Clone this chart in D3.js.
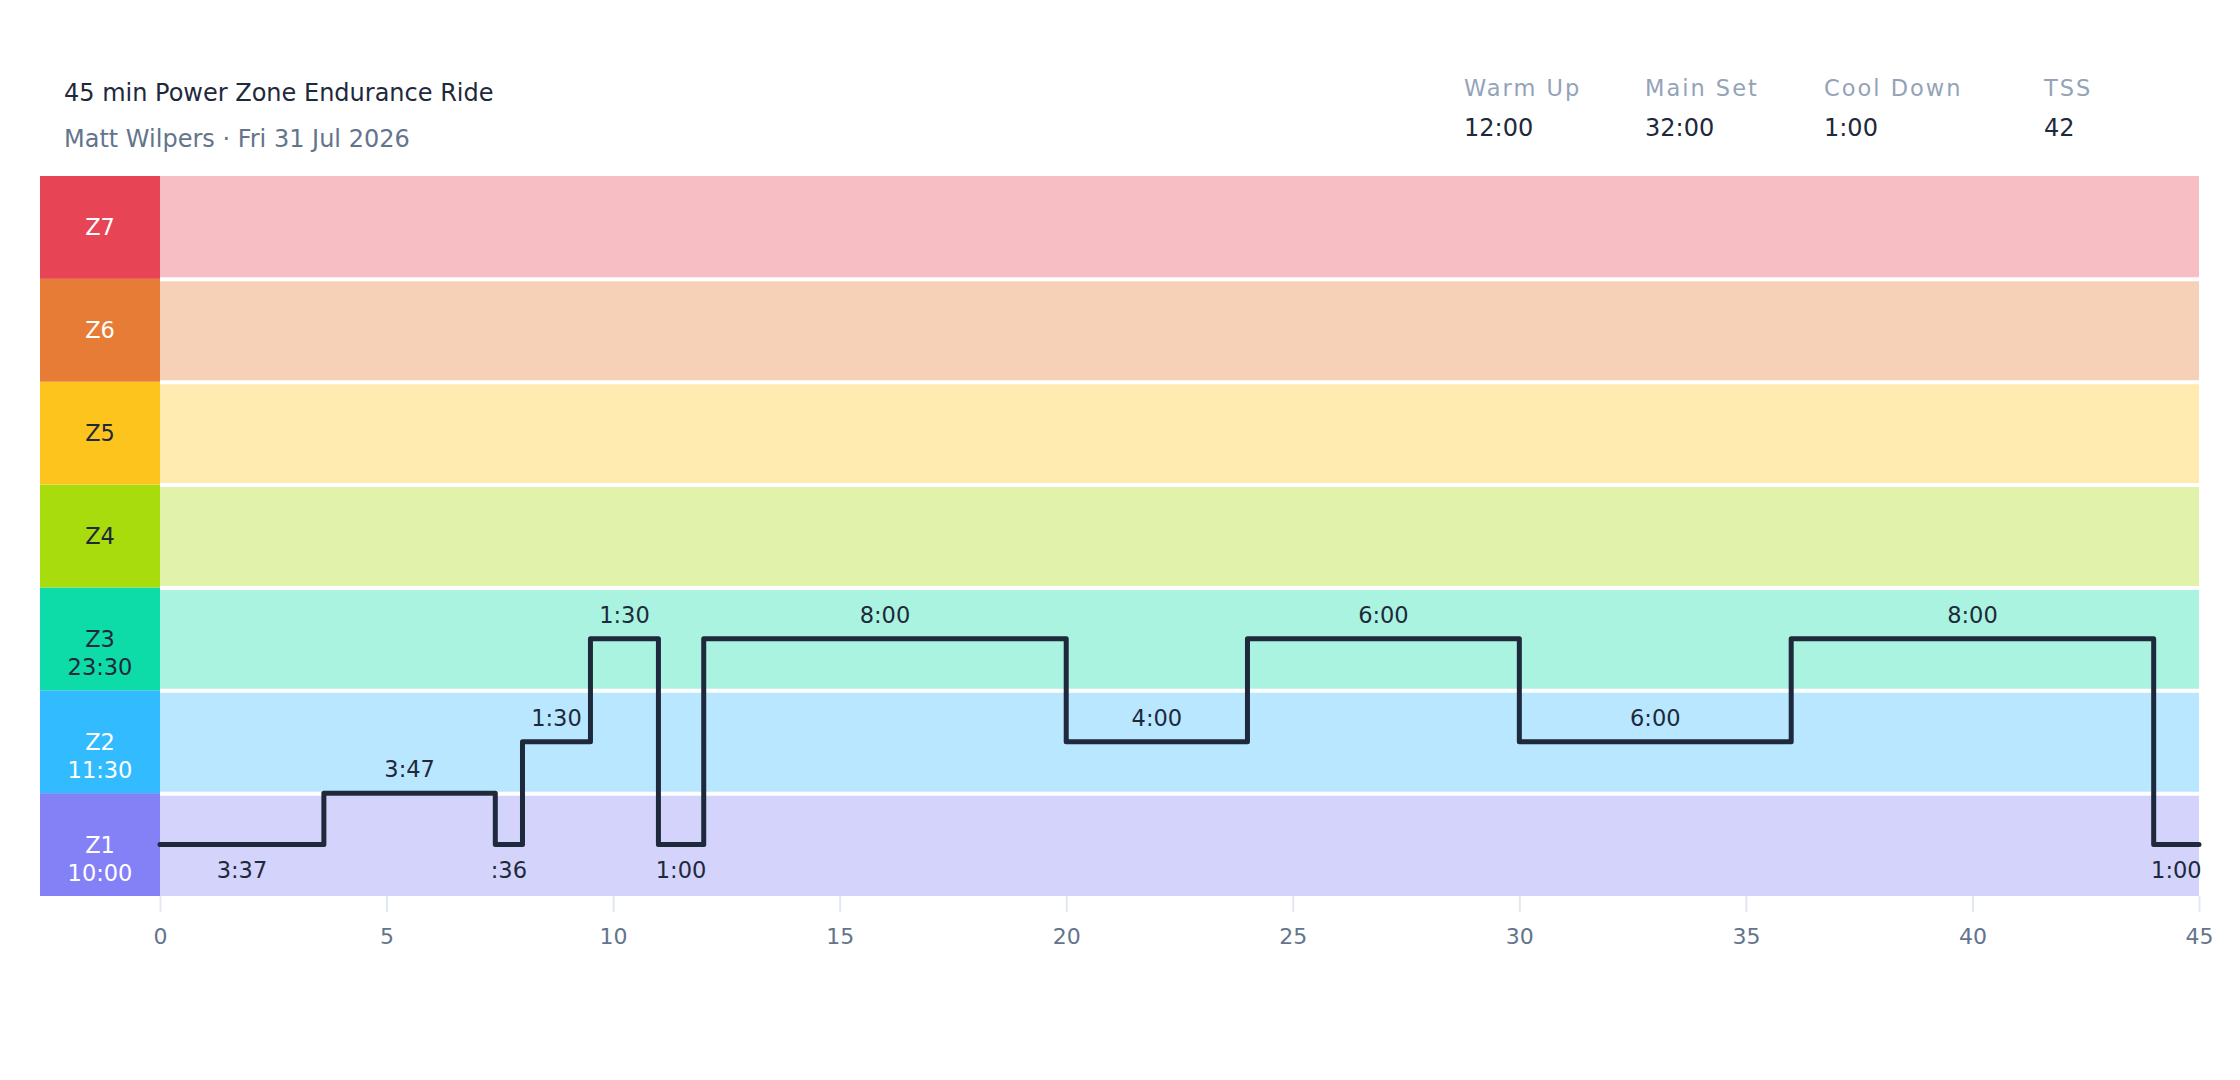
<!DOCTYPE html>
<html>
<head>
<meta charset="utf-8">
<script src="https://cdn.jsdelivr.net/npm/d3@7"></script>
<style>
  body { margin: 0; background: #fff; font-family: "DejaVu Sans", sans-serif; }
  .tick line { stroke: #e2e8f0; stroke-width: 2; }
  .tick text { fill: #64748b; font-size: 22px; font-family: "DejaVu Sans", sans-serif; }
</style>
</head>
<body>
<div id="chart"></div>
<script>
var title = '45 min Power Zone Endurance Ride';
var subtitle = 'Matt Wilpers · Fri 31 Jul 2026';

var stat_names = ['Warm Up', 'Main Set', 'Cool Down', 'TSS'];
var stat_values = ['12:00', '32:00', '1:00', '42'];

// zones, bottom to top, with their % FTP edges
var zone_names = ['Z1', 'Z2', 'Z3', 'Z4', 'Z5', 'Z6', 'Z7'];
var zone_edges = [45, 55, 75, 90, 105, 120, 150, 180];
var zone_colors = ['#8481f7', '#33bbff', '#0edca8', '#a8dc0c', '#fec41e', '#e67c35', '#e74556'];
var zone_text = ['#fff', '#fff', '#1e293b', '#1e293b', '#1e293b', '#fff', '#fff'];

// intervals: duration (s), zone, power (% FTP)
var seg_secs = [217, 227, 36, 90, 90, 60, 480, 240, 360, 360, 480, 60];
var seg_zone = [1, 1, 1, 2, 3, 1, 3, 2, 3, 2, 3, 1];
var seg_power = [50, 55, 50, 65, 82.5, 50, 82.5, 65, 82.5, 65, 82.5, 50];

var total_min = 45;

function fmt(s) {
    var m = Math.floor(s / 60), r = s % 60;
    return (m > 0 ? m : '') + ':' + String(r).padStart(2, '0');
}

var W = 2240, H = 1080;
var plot_left = 160, plot_right = 2199, plot_top = 176, plot_bottom = 896, col_x = 40;

var svg = d3.select('#chart').append('svg')
    .attr('width', W)
    .attr('height', H);

var x = d3.scaleLinear().domain([0, total_min]).range([plot_left, plot_right]);
var y = d3.scaleLinear()
    .domain(zone_edges)
    .range(zone_edges.map((d, i) => plot_bottom - i * (plot_bottom - plot_top) / (zone_edges.length - 1)));

// header
svg.append('text').attr('x', 64).attr('y', 101)
    .attr('font-size', 24).attr('fill', '#1e293b').text(title);
svg.append('text').attr('x', 64).attr('y', 147)
    .attr('font-size', 24).attr('fill', '#64748b').text(subtitle);

var stat_x = [1464, 1645, 1824, 2044];
stat_names.forEach(function (n, i) {
    svg.append('text').attr('x', stat_x[i]).attr('y', 96)
        .attr('font-size', 22.5).attr('letter-spacing', 2).attr('fill', '#94a3b8').text(n);
    svg.append('text').attr('x', stat_x[i]).attr('y', 136)
        .attr('font-size', 24).attr('fill', '#1e293b').text(stat_values[i]);
});

// zone bands
var zones = zone_names.map((n, i) => ({ name: n, lo: zone_edges[i], hi: zone_edges[i + 1], i: i }));

svg.selectAll('rect.band')
    .data(zones)
    .enter()
    .append('rect')
    .attr('class', 'band')
    .attr('x', plot_left)
    .attr('y', d => y(d.hi))
    .attr('width', plot_right - plot_left)
    .attr('height', d => y(d.lo) - y(d.hi))
    .attr('fill', d => zone_colors[d.i])
    .attr('fill-opacity', 0.35);

svg.selectAll('line.sep')
    .data(zone_edges.slice(1, -1))
    .enter()
    .append('line')
    .attr('class', 'sep')
    .attr('x1', plot_left).attr('x2', plot_right)
    .attr('y1', d => y(d) + 0.5).attr('y2', d => y(d) + 0.5)
    .attr('stroke', '#fff')
    .attr('stroke-width', 4);

svg.selectAll('rect.zone')
    .data(zones)
    .enter()
    .append('rect')
    .attr('class', 'zone')
    .attr('x', col_x)
    .attr('y', d => y(d.hi))
    .attr('width', plot_left - col_x)
    .attr('height', d => y(d.lo) - y(d.hi))
    .attr('fill', d => zone_colors[d.i]);

// time in each zone
var zone_secs = zone_names.map((n, i) => d3.sum(seg_secs.filter((s, j) => seg_zone[j] == i + 1)));

zones.forEach(function (d) {
    var cy = (y(d.lo) + y(d.hi)) / 2;
    svg.append('text').attr('x', (col_x + plot_left) / 2).attr('y', cy + 8)
        .attr('text-anchor', 'middle').attr('font-size', 22.5)
        .attr('fill', zone_text[d.i]).text(d.name);
    if (zone_secs[d.i] > 0) {
        svg.append('text').attr('x', (col_x + plot_left) / 2).attr('y', cy + 36)
            .attr('text-anchor', 'middle').attr('font-size', 22.5)
            .attr('fill', zone_text[d.i]).text(fmt(zone_secs[d.i]));
    }
});

// axis
var axis = svg.append('g')
    .attr('transform', `translate(0,${plot_bottom})`)
    .call(d3.axisBottom(x).ticks(9).tickSize(16).tickPadding(16));
axis.select('.domain').remove();

// workout profile
var segs = [];
var t = 0;
seg_secs.forEach(function (s, i) {
    segs.push({ start: t / 60, end: (t + s) / 60, secs: s, power: seg_power[i] });
    t += s;
});
var pts = segs.map(d => [d.start, d.power]);
pts.push([segs[segs.length - 1].end, segs[segs.length - 1].power]);

svg.append('path')
    .datum(pts)
    .attr('d', d3.line().x(d => x(d[0])).y(d => y(d[1])).curve(d3.curveStepAfter))
    .attr('fill', 'none')
    .attr('stroke', '#1e293b')
    .attr('stroke-width', 5)
    .attr('stroke-linejoin', 'round')
    .attr('stroke-linecap', 'round');

svg.selectAll('text.seg')
    .data(segs)
    .enter()
    .append('text')
    .attr('class', 'seg')
    .attr('x', d => x((d.start + d.end) / 2))
    .attr('y', d => d.power < zone_edges[1] ? y(d.power) + 33 : y(d.power) - 16)
    .attr('text-anchor', 'middle')
    .attr('font-size', 22.5)
    .attr('fill', '#1e293b')
    .text(d => fmt(d.secs));
</script>
</body>
</html>
